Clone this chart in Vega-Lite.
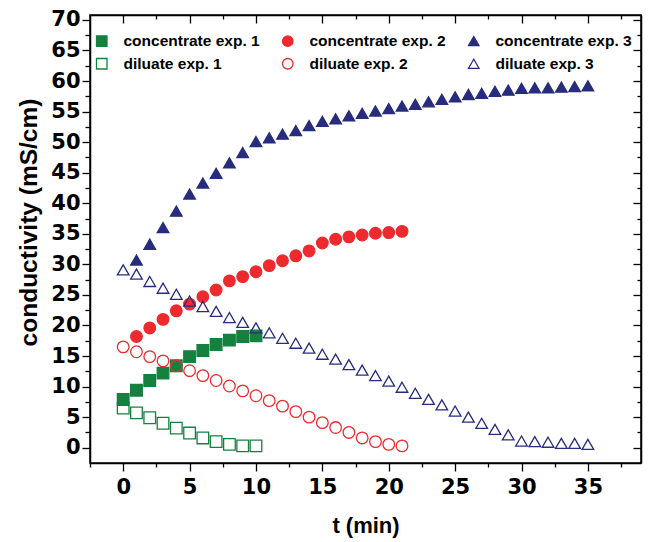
{
  "$schema": "https://vega.github.io/schema/vega-lite/v6.json",
  "width": 551,
  "height": 448,
  "autosize": {"type": "none"},
  "padding": {"left": 90, "top": 15, "right": 8, "bottom": 79},
  "background": "white",
  "config": {
    "view": {"stroke": "black", "strokeWidth": 1.5},
    "axis": {"grid": false, "domainColor": "black", "domainWidth": 1.5, "tickColor": "black", "tickWidth": 1.3}
  },
  "data": {"values": [
    {"t":0,"v":7.9,"s":"concentrate exp. 1"},{"t":1,"v":9.4,"s":"concentrate exp. 1"},{"t":2,"v":11.0,"s":"concentrate exp. 1"},{"t":3,"v":12.2,"s":"concentrate exp. 1"},{"t":4,"v":13.4,"s":"concentrate exp. 1"},{"t":5,"v":14.9,"s":"concentrate exp. 1"},{"t":6,"v":15.9,"s":"concentrate exp. 1"},{"t":7,"v":16.9,"s":"concentrate exp. 1"},{"t":8,"v":17.6,"s":"concentrate exp. 1"},{"t":9,"v":18.2,"s":"concentrate exp. 1"},{"t":10,"v":18.3,"s":"concentrate exp. 1"},
    {"t":0,"v":6.5,"s":"diluate exp. 1"},{"t":1,"v":5.7,"s":"diluate exp. 1"},{"t":2,"v":4.9,"s":"diluate exp. 1"},{"t":3,"v":4.0,"s":"diluate exp. 1"},{"t":4,"v":3.2,"s":"diluate exp. 1"},{"t":5,"v":2.4,"s":"diluate exp. 1"},{"t":6,"v":1.6,"s":"diluate exp. 1"},{"t":7,"v":1.0,"s":"diluate exp. 1"},{"t":8,"v":0.55,"s":"diluate exp. 1"},{"t":9,"v":0.3,"s":"diluate exp. 1"},{"t":10,"v":0.3,"s":"diluate exp. 1"},
    {"t":1,"v":18.2,"s":"concentrate exp. 2"},{"t":2,"v":19.6,"s":"concentrate exp. 2"},{"t":3,"v":21.0,"s":"concentrate exp. 2"},{"t":4,"v":22.4,"s":"concentrate exp. 2"},{"t":5,"v":23.5,"s":"concentrate exp. 2"},{"t":6,"v":24.7,"s":"concentrate exp. 2"},{"t":7,"v":25.8,"s":"concentrate exp. 2"},{"t":8,"v":27.3,"s":"concentrate exp. 2"},{"t":9,"v":28.0,"s":"concentrate exp. 2"},{"t":10,"v":28.8,"s":"concentrate exp. 2"},{"t":11,"v":29.8,"s":"concentrate exp. 2"},{"t":12,"v":30.6,"s":"concentrate exp. 2"},{"t":13,"v":31.4,"s":"concentrate exp. 2"},{"t":14,"v":32.2,"s":"concentrate exp. 2"},{"t":15,"v":33.5,"s":"concentrate exp. 2"},{"t":16,"v":34.1,"s":"concentrate exp. 2"},{"t":17,"v":34.5,"s":"concentrate exp. 2"},{"t":18,"v":34.8,"s":"concentrate exp. 2"},{"t":19,"v":35.1,"s":"concentrate exp. 2"},{"t":20,"v":35.2,"s":"concentrate exp. 2"},{"t":21,"v":35.4,"s":"concentrate exp. 2"},
    {"t":0,"v":16.5,"s":"diluate exp. 2"},{"t":1,"v":15.7,"s":"diluate exp. 2"},{"t":2,"v":14.9,"s":"diluate exp. 2"},{"t":3,"v":14.2,"s":"diluate exp. 2"},{"t":4,"v":13.4,"s":"diluate exp. 2"},{"t":5,"v":12.6,"s":"diluate exp. 2"},{"t":6,"v":11.8,"s":"diluate exp. 2"},{"t":7,"v":11.0,"s":"diluate exp. 2"},{"t":8,"v":10.1,"s":"diluate exp. 2"},{"t":9,"v":9.3,"s":"diluate exp. 2"},{"t":10,"v":8.5,"s":"diluate exp. 2"},{"t":11,"v":7.7,"s":"diluate exp. 2"},{"t":12,"v":6.8,"s":"diluate exp. 2"},{"t":13,"v":5.9,"s":"diluate exp. 2"},{"t":14,"v":5.0,"s":"diluate exp. 2"},{"t":15,"v":4.1,"s":"diluate exp. 2"},{"t":16,"v":3.3,"s":"diluate exp. 2"},{"t":17,"v":2.5,"s":"diluate exp. 2"},{"t":18,"v":1.6,"s":"diluate exp. 2"},{"t":19,"v":1.0,"s":"diluate exp. 2"},{"t":20,"v":0.55,"s":"diluate exp. 2"},{"t":21,"v":0.3,"s":"diluate exp. 2"},
    {"t":1,"v":30.7,"s":"concentrate exp. 3"},{"t":2,"v":33.3,"s":"concentrate exp. 3"},{"t":3,"v":36.0,"s":"concentrate exp. 3"},{"t":4,"v":38.7,"s":"concentrate exp. 3"},{"t":5,"v":41.5,"s":"concentrate exp. 3"},{"t":6,"v":43.3,"s":"concentrate exp. 3"},{"t":7,"v":44.9,"s":"concentrate exp. 3"},{"t":8,"v":46.6,"s":"concentrate exp. 3"},{"t":9,"v":48.3,"s":"concentrate exp. 3"},{"t":10,"v":50.1,"s":"concentrate exp. 3"},{"t":11,"v":50.7,"s":"concentrate exp. 3"},{"t":12,"v":51.3,"s":"concentrate exp. 3"},{"t":13,"v":51.9,"s":"concentrate exp. 3"},{"t":14,"v":52.7,"s":"concentrate exp. 3"},{"t":15,"v":53.4,"s":"concentrate exp. 3"},{"t":16,"v":53.8,"s":"concentrate exp. 3"},{"t":17,"v":54.3,"s":"concentrate exp. 3"},{"t":18,"v":54.7,"s":"concentrate exp. 3"},{"t":19,"v":55.1,"s":"concentrate exp. 3"},{"t":20,"v":55.5,"s":"concentrate exp. 3"},{"t":21,"v":55.9,"s":"concentrate exp. 3"},{"t":22,"v":56.2,"s":"concentrate exp. 3"},{"t":23,"v":56.6,"s":"concentrate exp. 3"},{"t":24,"v":57.0,"s":"concentrate exp. 3"},{"t":25,"v":57.4,"s":"concentrate exp. 3"},{"t":26,"v":57.8,"s":"concentrate exp. 3"},{"t":27,"v":58.0,"s":"concentrate exp. 3"},{"t":28,"v":58.3,"s":"concentrate exp. 3"},{"t":29,"v":58.5,"s":"concentrate exp. 3"},{"t":30,"v":58.8,"s":"concentrate exp. 3"},{"t":31,"v":58.9,"s":"concentrate exp. 3"},{"t":32,"v":58.9,"s":"concentrate exp. 3"},{"t":33,"v":59.0,"s":"concentrate exp. 3"},{"t":34,"v":59.1,"s":"concentrate exp. 3"},{"t":35,"v":59.2,"s":"concentrate exp. 3"},
    {"t":0,"v":29.1,"s":"diluate exp. 3"},{"t":1,"v":28.4,"s":"diluate exp. 3"},{"t":2,"v":27.2,"s":"diluate exp. 3"},{"t":3,"v":26.1,"s":"diluate exp. 3"},{"t":4,"v":25.1,"s":"diluate exp. 3"},{"t":5,"v":24.0,"s":"diluate exp. 3"},{"t":6,"v":23.1,"s":"diluate exp. 3"},{"t":7,"v":22.3,"s":"diluate exp. 3"},{"t":8,"v":21.3,"s":"diluate exp. 3"},{"t":9,"v":20.5,"s":"diluate exp. 3"},{"t":10,"v":19.6,"s":"diluate exp. 3"},{"t":11,"v":18.8,"s":"diluate exp. 3"},{"t":12,"v":17.9,"s":"diluate exp. 3"},{"t":13,"v":17.1,"s":"diluate exp. 3"},{"t":14,"v":16.3,"s":"diluate exp. 3"},{"t":15,"v":15.3,"s":"diluate exp. 3"},{"t":16,"v":14.5,"s":"diluate exp. 3"},{"t":17,"v":13.6,"s":"diluate exp. 3"},{"t":18,"v":12.7,"s":"diluate exp. 3"},{"t":19,"v":11.8,"s":"diluate exp. 3"},{"t":20,"v":10.9,"s":"diluate exp. 3"},{"t":21,"v":9.9,"s":"diluate exp. 3"},{"t":22,"v":8.9,"s":"diluate exp. 3"},{"t":23,"v":7.9,"s":"diluate exp. 3"},{"t":24,"v":7.0,"s":"diluate exp. 3"},{"t":25,"v":6.0,"s":"diluate exp. 3"},{"t":26,"v":5.0,"s":"diluate exp. 3"},{"t":27,"v":4.0,"s":"diluate exp. 3"},{"t":28,"v":3.0,"s":"diluate exp. 3"},{"t":29,"v":2.1,"s":"diluate exp. 3"},{"t":30,"v":1.1,"s":"diluate exp. 3"},{"t":31,"v":1.0,"s":"diluate exp. 3"},{"t":32,"v":0.9,"s":"diluate exp. 3"},{"t":33,"v":0.7,"s":"diluate exp. 3"},{"t":34,"v":0.7,"s":"diluate exp. 3"},{"t":35,"v":0.55,"s":"diluate exp. 3"}
  ]},
  "resolve": {"axis": {"x": "independent", "y": "independent"}},
  "layer": [
    {
      "mark": {"type": "point", "opacity": 0},
      "encoding": {
        "x": {"field": "t", "type": "quantitative", "scale": {"domain": [-2.5, 39], "nice": false, "zero": false},
          "axis": {"orient": "bottom", "values": [-2.5,2.5,7.5,12.5,17.5,22.5,27.5,32.5,37.5], "labels": false, "tickSize": 4, "domain": false, "title": null}},
        "y": {"field": "v", "type": "quantitative", "scale": {"domain": [-2.5, 70.8], "nice": false, "zero": false},
          "axis": {"orient": "left", "values": [2.5,7.5,12.5,17.5,22.5,27.5,32.5,37.5,42.5,47.5,52.5,57.5,62.5,67.5], "labels": false, "tickSize": 5, "domain": false, "title": null}}
      }
    },
    {
      "mark": {"type": "point", "opacity": 0},
      "encoding": {
        "x": {"field": "t", "type": "quantitative", "scale": {"domain": [-2.5, 39], "nice": false, "zero": false},
          "axis": {"orient": "top", "values": [0,5,10,15,20,25,30,35], "labels": false, "tickSize": -8, "domain": true, "title": null}},
        "y": {"field": "v", "type": "quantitative", "scale": {"domain": [-2.5, 70.8], "nice": false, "zero": false},
          "axis": {"orient": "right", "values": [0,5,10,15,20,25,30,35,40,45,50,55,60,65,70], "labels": false, "tickSize": -8, "domain": true, "title": null}}
      }
    },
    {
      "mark": {"type": "point", "opacity": 0},
      "encoding": {
        "x": {"field": "t", "type": "quantitative", "scale": {"domain": [-2.5, 39], "nice": false, "zero": false},
          "axis": {"orient": "top", "values": [2.5,7.5,12.5,17.5,22.5,27.5,32.5,37.5], "labels": false, "tickSize": -4, "domain": false, "title": null}},
        "y": {"field": "v", "type": "quantitative", "scale": {"domain": [-2.5, 70.8], "nice": false, "zero": false},
          "axis": {"orient": "right", "values": [2.5,7.5,12.5,17.5,22.5,27.5,32.5,37.5,42.5,47.5,52.5,57.5,62.5,67.5], "labels": false, "tickSize": -4, "domain": false, "title": null}}
      }
    },
    {
      "mark": {"type": "point", "filled": true, "size": 135, "strokeWidth": 1.3, "opacity": 1},
      "encoding": {
        "x": {"field": "t", "type": "quantitative", "scale": {"domain": [-2.5, 39], "nice": false, "zero": false},
          "axis": {"orient": "bottom", "values": [0,5,10,15,20,25,30,35], "tickSize": 8, "labelFont": "DejaVu Sans", "labelFontWeight": "bold", "labelFontSize": 21, "labelColor": "black", "labelPadding": 5,
            "title": "t (min)", "titleFont": "Liberation Sans", "titleFontSize": 22, "titleFontWeight": "bold", "titleColor": "black", "titlePadding": 18}},
        "y": {"field": "v", "type": "quantitative", "scale": {"domain": [-2.5, 70.8], "nice": false, "zero": false},
          "axis": {"orient": "left", "values": [0,5,10,15,20,25,30,35,40,45,50,55,60,65,70], "tickSize": 8, "labelFont": "DejaVu Sans", "labelFontWeight": "bold", "labelFontSize": 21, "labelColor": "black", "labelPadding": 2,
            "title": "conductivity (mS/cm)", "titleFont": "Liberation Sans", "titleFontSize": 24.5, "titleFontWeight": "bold", "titleColor": "black", "titlePadding": 9, "titleY": 207}},
        "shape": {"field": "s", "type": "nominal",
          "scale": {"domain": ["concentrate exp. 1","diluate exp. 1","concentrate exp. 2","diluate exp. 2","concentrate exp. 3","diluate exp. 3"], "range": ["square","square","circle","circle","triangle-up","triangle-up"]},
          "legend": {"title": null, "orient": "none", "legendX": 4, "legendY": 18, "columns": 3, "columnPadding": 19, "rowPadding": 5, "symbolSize": 110, "symbolStrokeWidth": 1.3, "labelFont": "Liberation Sans", "labelFontSize": 15.5, "labelFontWeight": "bold", "labelColor": "black", "labelOffset": 14, "labelLimit": 300}},
        "fill": {"field": "s", "type": "nominal",
          "scale": {"domain": ["concentrate exp. 1","diluate exp. 1","concentrate exp. 2","diluate exp. 2","concentrate exp. 3","diluate exp. 3"], "range": ["#16813f","transparent","#ee2a2e","transparent","#272c7c","transparent"]},
          "legend": {"title": null}},
        "stroke": {"field": "s", "type": "nominal",
          "scale": {"domain": ["concentrate exp. 1","diluate exp. 1","concentrate exp. 2","diluate exp. 2","concentrate exp. 3","diluate exp. 3"], "range": ["#16813f","#16813f","#ee2a2e","#ee2a2e","#272c7c","#272c7c"]},
          "legend": {"title": null}}
      }
    }
  ]
}
